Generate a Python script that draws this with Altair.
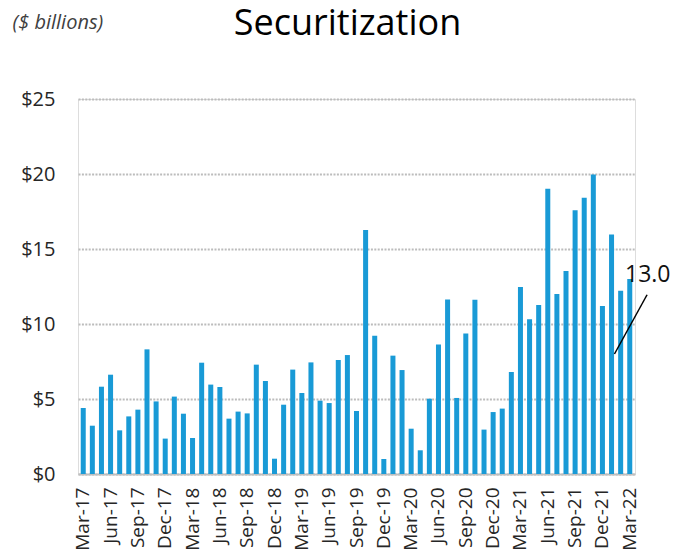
import altair as alt
import pandas as pd

MONTH_NAMES = ["Jan", "Feb", "Mar", "Apr", "May", "Jun",
               "Jul", "Aug", "Sep", "Oct", "Nov", "Dec"]
YEARS = [17, 18, 19, 20, 21, 22]

months = []
for yy in YEARS:
    for m in MONTH_NAMES:
        months.append(f"{m}-{yy}")
months = months[months.index("Mar-17"):months.index("Mar-22") + 1]

values = [
    4.40, 3.22, 5.82, 6.62, 2.91, 3.84, 4.29, 8.31, 4.84, 2.36,
    5.16, 4.02, 2.40, 7.42, 5.96, 5.80, 3.69, 4.16, 4.04, 7.29,
    6.20, 1.02, 4.62, 6.96, 5.40, 7.44, 4.89, 4.73, 7.60, 7.93,
    4.20, 16.27, 9.22, 1.00, 7.89, 6.93, 3.02, 1.58, 5.02, 8.64,
    11.64, 5.07, 9.36, 11.62, 2.96, 4.13, 4.36, 6.80, 12.47, 10.31,
    11.27, 19.02, 12.00, 13.53, 17.58, 18.42, 19.96, 11.20, 15.96, 12.22,
    13.00,
]

tick_labels = months[::3]
y_ticks = [0, 5, 10, 15, 20, 25]

df = pd.DataFrame({"month": months, "value": values})

FONT = "Open Sans"
BAR = "#199ad6"

x_enc = alt.X(
    "month:N",
    sort=months,
    scale=alt.Scale(paddingInner=0.45, paddingOuter=0.3),
    axis=alt.Axis(
        values=tick_labels,
        title=None,
        ticks=False,
        domainColor="#bfbfbf",
        domainWidth=2,
        labelAngle=-90,
        labelAlign="right",
        labelBaseline="middle",
        labelPadding=13,
        labelFontSize=19,
        labelFont=FONT,
        labelColor="#262626",
        grid=False,
    ),
)

bars = alt.Chart(df).mark_bar(color=BAR).encode(
    x=x_enc,
    y=alt.Y(
        "value:Q",
        scale=alt.Scale(domain=[0, 25], nice=False),
        axis=alt.Axis(
            values=y_ticks,
            labelExpr="'$' + datum.value",
            domain=False,
            ticks=False,
            grid=True,
            gridColor="#bcbcbc",
            gridWidth=2,
            gridDash=[2, 1.4],
            labelPadding=23,
            labelFontSize=20,
            labelFont=FONT,
            labelColor="#262626",
            title="($ billions)",
            titleAngle=0,
            titleAlign="left",
            titleBaseline="alphabetic",
            titleX=-66,
            titleY=-71,
            titleFont=FONT,
            titleFontSize=20,
            titleFontStyle="italic",
            titleFontWeight="normal",
            titleColor="#404040",
        ),
    ),
)

last_month = months[-1]
last_value = values[-1]
annot = pd.DataFrame({
    "month": [last_month],
    "value": [last_value],
    "label": [f"{last_value:.1f}"],
    "y_low": [8.0],
    "y_high": [11.95],
})

leader = alt.Chart(annot).mark_rule(
    color="black", strokeWidth=1.5, xOffset=-15.3, x2Offset=17.3
).encode(
    x=alt.X("month:N", sort=months),
    x2=alt.X2("month:N"),
    y="y_low:Q",
    y2="y_high:Q",
)

label = alt.Chart(annot).mark_text(
    font=FONT, fontSize=23, color="#111111", dx=18, dy=-4,
    baseline="middle", align="center",
).encode(
    x=alt.X("month:N", sort=months),
    y="value:Q",
    text="label:N",
)

chart = alt.layer(bars, leader, label).properties(
    width=557,
    height=375,
    title=alt.TitleParams(
        "Securitization",
        font=FONT,
        fontSize=36,
        fontWeight="normal",
        color="black",
        anchor="middle",
        dx=-9,
        offset=-31,
    ),
    autosize=alt.AutoSizeParams(type="none"),
    padding={"left": 70, "top": 91, "right": 36, "bottom": 77},
).configure_view(stroke=None).configure(background="white")

chart.save("out.html", embed_options={"renderer": "svg", "actions": False})
